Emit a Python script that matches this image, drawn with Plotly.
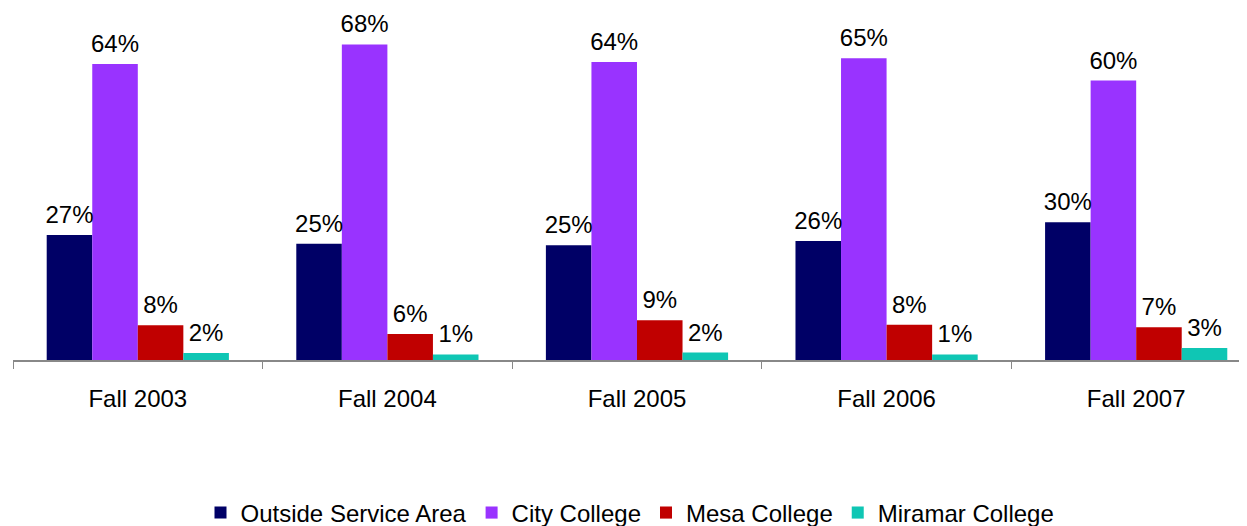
import plotly.graph_objects as go

categories = ["Fall 2003", "Fall 2004", "Fall 2005", "Fall 2006", "Fall 2007"]
outside_service = [27.0, 25.1, 24.8, 25.7, 29.8]
city_college = [64.0, 68.2, 64.4, 65.2, 60.4]
mesa_college = [7.5, 5.6, 8.6, 7.6, 7.1]
miramar_college = [1.5, 1.2, 1.6, 1.2, 2.6]

series = [
    ("Outside Service Area", outside_service, "#000066"),
    ("City College", city_college, "#9933FF"),
    ("Mesa College", mesa_college, "#C00000"),
    ("Miramar College", miramar_college, "#0FC6B4"),
]

FONT = "Liberation Sans, Arial, sans-serif"
FS = 24

fig = go.Figure()
for i, (name, vals, color) in enumerate(series):
    fig.add_trace(go.Bar(
        name=name, x=categories, y=vals, offsetgroup=str(i),
        marker=dict(color=color, line=dict(width=0)),
        hoverinfo="skip",
    ))
for i, (name, vals, color) in enumerate(series):
    fig.add_trace(go.Scatter(
        x=categories, y=vals, offsetgroup=str(i),
        mode="markers+text",
        marker=dict(size=8, color="rgba(0,0,0,0)"),
        text=[f"{int(v + 0.5)}%" for v in vals],
        textposition="top center",
        textfont=dict(family=FONT, size=FS, color="#000000"),
        showlegend=False, hoverinfo="skip", cliponaxis=False,
    ))

# page body has an 8px margin, so the figure starts at (8, 8)
fig.update_layout(
    width=1239, height=518,
    margin=dict(l=5, r=0, t=5, b=166, autoexpand=False),
    paper_bgcolor="white", plot_bgcolor="white",
    barmode="group", bargap=0.27, bargroupgap=0,
    scattermode="group", scattergap=0.27,
    font=dict(family=FONT, size=FS, color="#000000"),
    showlegend=True,
    legend=dict(orientation="h", x=0.5, xanchor="center",
                yref="container", y=13 / 518, yanchor="middle",
                font=dict(family=FONT, size=FS), itemwidth=30, traceorder="normal"),
)
fig.update_xaxes(
    type="category", range=[-0.5, 4.444], tickson="boundaries",
    ticks="outside", ticklen=7, tickcolor="#888888", tickwidth=1,
    showline=True, linecolor="#888888", linewidth=2,
    tickfont=dict(family=FONT, size=FS, color="#000000"),
    ticklabelstandoff=16, showgrid=False, automargin=False,
)
fig.update_yaxes(range=[0, 75], visible=False, showgrid=False, zeroline=False, automargin=False)

fig.write_html("out.html")
